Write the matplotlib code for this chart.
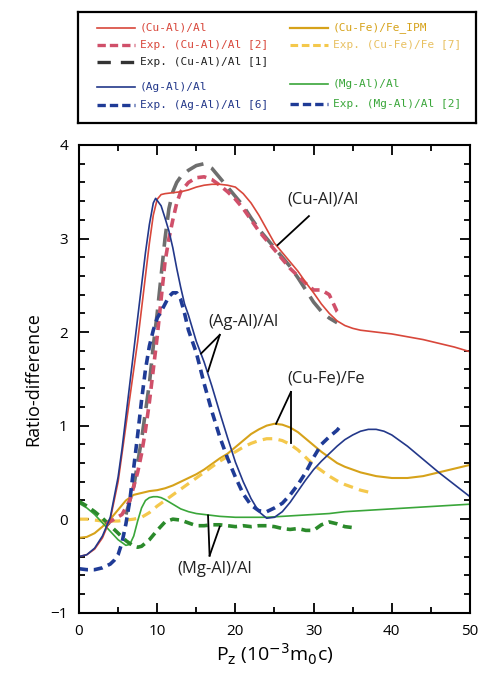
import matplotlib
matplotlib.use("Agg")
import matplotlib.pyplot as plt
from matplotlib.ticker import MultipleLocator

plt.rcParams['font.family'] = ['Open Sans', 'DejaVu Sans']

# ---------------- data ----------------
cual_x = [0, 1, 2, 3, 4, 5, 5.5, 6, 6.5, 7, 7.5, 8, 8.5, 9, 9.5, 10, 10.5, 11, 12, 13, 14, 15, 16, 17, 18,
          19, 20, 21, 22, 23, 24, 25, 26, 27, 28, 29, 30, 31, 32, 33, 34, 35, 36, 38, 40, 42, 44, 46, 48, 50]
cual_y = [-0.40, -0.38, -0.32, -0.2, 0.0, 0.4, 0.7, 1.0, 1.3, 1.6, 1.9, 2.25, 2.6, 2.95, 3.25, 3.42, 3.47,
          3.48, 3.49, 3.5, 3.52, 3.55, 3.57, 3.58, 3.58, 3.57, 3.55, 3.48, 3.38, 3.25, 3.1, 2.95, 2.85, 2.75,
          2.65, 2.53, 2.42, 2.3, 2.2, 2.12, 2.07, 2.04, 2.02, 2.0, 1.98, 1.95, 1.92, 1.88, 1.84, 1.79]

exp_cual2_x = [3.5, 4.5, 5.5, 6.5, 7, 7.5, 8, 8.5, 9, 9.5, 10, 10.5, 11, 11.5, 12, 12.5, 13, 14, 15, 16, 17,
               18, 19, 20, 21, 22, 23, 24, 25, 26, 27, 28, 29, 30, 31, 32, 33, 33.5]
exp_cual2_y = [-0.05, 0.0, 0.05, 0.2, 0.35, 0.5, 0.7, 0.95, 1.25, 1.6, 1.95, 2.35, 2.75, 3.0, 3.2, 3.38, 3.5,
               3.6, 3.65, 3.66, 3.63, 3.57, 3.5, 3.42, 3.32, 3.2, 3.08, 2.98, 2.88, 2.78, 2.68, 2.6, 2.52,
               2.45, 2.45, 2.4, 2.22, 2.18]

exp_cual1_x = [6, 7, 8, 9, 9.5, 10, 10.5, 11, 11.5, 12, 12.5, 13, 14, 15, 16, 17, 18, 19, 20, 21, 22, 23,
               24, 25, 26, 27, 28, 29, 30, 31, 32, 33]
exp_cual1_y = [0.05, 0.35, 0.85, 1.45, 1.85, 2.2, 2.6, 3.0, 3.32, 3.5, 3.6, 3.66, 3.73, 3.78, 3.8, 3.75,
               3.65, 3.55, 3.45, 3.35, 3.22, 3.1, 3.0, 2.9, 2.8, 2.7, 2.58, 2.45, 2.32, 2.22, 2.15, 2.1]

agal_x = [0, 1, 2, 3, 4, 5, 5.5, 6, 6.5, 7, 7.5, 8, 8.5, 9, 9.5, 9.8, 10.5, 11, 11.5, 12, 12.5, 13, 13.5,
          14, 15, 16, 17, 18, 19, 20, 21, 22, 23, 24, 25, 26, 27, 28, 29, 30, 31, 32, 33, 34, 35, 36, 37,
          38, 39, 40, 42, 44, 46, 48, 50]
agal_y = [-0.40, -0.38, -0.31, -0.18, 0.02, 0.45, 0.75, 1.1, 1.45, 1.8, 2.15, 2.5, 2.85, 3.15, 3.38, 3.43,
          3.35, 3.22, 3.08, 2.9, 2.68, 2.48, 2.3, 2.18, 1.9, 1.68, 1.42, 1.14, 0.87, 0.61, 0.4, 0.22, 0.08,
          0.01, 0.02, 0.08, 0.18, 0.3, 0.42, 0.53, 0.62, 0.7, 0.78, 0.85, 0.9, 0.94, 0.96, 0.96, 0.94, 0.9,
          0.78, 0.64, 0.5, 0.37, 0.24]

exp_agal_x = [0, 1, 2, 3, 4, 4.5, 5, 5.5, 6, 6.5, 7, 7.5, 8, 8.5, 9, 9.5, 10, 10.5, 11, 11.5, 12, 12.5, 13,
              13.5, 14, 14.5, 15, 16, 17, 18, 19, 20, 21, 22, 23, 24, 25, 26, 27, 28, 29, 30, 31, 32, 33,
              33.5]
exp_agal_y = [-0.53, -0.54, -0.54, -0.52, -0.48, -0.44, -0.38, -0.25, -0.05, 0.2, 0.55, 0.9, 1.27, 1.6,
              1.85, 2.02, 2.15, 2.22, 2.3, 2.38, 2.42, 2.42, 2.35, 2.2, 2.02, 1.9, 1.78, 1.45, 1.15, 0.88,
              0.65, 0.45, 0.27, 0.15, 0.09, 0.08, 0.12, 0.17, 0.26, 0.37, 0.5, 0.66, 0.8, 0.88, 0.95, 1.0]

cufe_x = list(range(0, 51))
cufe_y = [-0.2, -0.19, -0.15, -0.08, 0.0, 0.1, 0.2, 0.26, 0.28, 0.3, 0.31, 0.33, 0.36, 0.4, 0.44, 0.48,
          0.53, 0.59, 0.65, 0.7, 0.77, 0.84, 0.91, 0.96, 1.0, 1.02, 1.01, 0.98, 0.93, 0.86, 0.79, 0.72,
          0.66, 0.6, 0.56, 0.53, 0.5, 0.48, 0.46, 0.45, 0.44, 0.44, 0.44, 0.45, 0.46, 0.48, 0.5, 0.52,
          0.54, 0.56, 0.58]

exp_cufe_x = list(range(0, 38))
exp_cufe_y = [0.0, 0.0, -0.01, -0.02, -0.02, -0.02, -0.01, 0.0, 0.02, 0.07, 0.14, 0.2, 0.26, 0.32, 0.38,
              0.44, 0.5, 0.56, 0.62, 0.67, 0.72, 0.77, 0.81, 0.84, 0.86, 0.86, 0.84, 0.8, 0.74, 0.66, 0.58,
              0.52, 0.46, 0.41, 0.37, 0.34, 0.31, 0.29]

mgal_x = [0, 1, 2, 3, 4, 5, 6, 6.5, 7, 7.5, 8, 8.5, 9, 9.5, 10, 10.5, 11, 12, 13, 14, 15, 16, 17, 18, 20,
          22, 24, 26, 28, 30, 32, 34, 36, 38, 40, 42, 44, 46, 48, 50]
mgal_y = [0.17, 0.12, 0.05, -0.04, -0.13, -0.22, -0.28, -0.27, -0.18, -0.02, 0.12, 0.2, 0.23, 0.24, 0.24,
          0.23, 0.21, 0.16, 0.11, 0.08, 0.06, 0.05, 0.04, 0.03, 0.02, 0.02, 0.02, 0.03, 0.04, 0.05, 0.06,
          0.08, 0.09, 0.1, 0.11, 0.12, 0.13, 0.14, 0.15, 0.16]

exp_mgal_x = [0, 1, 2, 3, 4, 5, 6, 7, 7.5, 8, 9, 10, 11, 12, 13, 14, 15, 16, 17, 18, 19, 20, 21, 22, 23,
              24, 25, 26, 27, 28, 29, 30, 31, 32, 33, 34, 35]
exp_mgal_y = [0.19, 0.14, 0.08, 0.01, -0.07, -0.15, -0.23, -0.29, -0.3, -0.29, -0.22, -0.12, -0.03, 0.0,
              -0.01, -0.04, -0.07, -0.07, -0.06, -0.06, -0.07, -0.08, -0.07, -0.08, -0.07, -0.07, -0.08,
              -0.1, -0.11, -0.1, -0.12, -0.12, -0.06, -0.03, -0.05, -0.08, -0.09]

x_ticks = [0, 10, 20, 30, 40, 50]
y_ticks = [-1, 0, 1, 2, 3, 4]

# ---------------- colours ----------------
C_RED = '#d8473b'
C_RED_D = '#d0506a'
C_GRAY = '#6e6e6e'
C_BLUE = '#23388a'
C_BLUE_D = '#1f3b96'
C_GOLD = '#d6a21a'
C_YEL_D = '#f4c84c'
C_GREEN = '#3aa63a'
C_GREEN_D = '#2b8a2b'

fig = plt.figure(figsize=(4.85, 6.77), dpi=100)
ax = fig.add_axes([79 / 485, (677 - 612.7) / 677, (470 - 79) / 485, (612.7 - 145) / 677])

ax.plot(cufe_x, cufe_y, color=C_GOLD, lw=1.5)
ax.plot(exp_cufe_x, exp_cufe_y, color=C_YEL_D, lw=2.3, ls=(0, (3, 2)))
ax.plot(mgal_x, mgal_y, color=C_GREEN, lw=1.2)
ax.plot(exp_mgal_x, exp_mgal_y, color=C_GREEN_D, lw=2.6, ls=(0, (2.5, 1.6)))
ax.plot(exp_cual1_x, exp_cual1_y, color=C_GRAY, lw=2.6, ls=(0, (5, 2.5)))
ax.plot(exp_cual2_x, exp_cual2_y, color=C_RED_D, lw=2.6, ls=(0, (2.5, 1.6)))
ax.plot(cual_x, cual_y, color=C_RED, lw=1.2)
ax.plot(agal_x, agal_y, color=C_BLUE, lw=1.2)
ax.plot(exp_agal_x, exp_agal_y, color=C_BLUE_D, lw=2.6, ls=(0, (2.5, 1.6)))

ax.set_xlim(0, 50)
ax.set_ylim(-1, 4)
ax.set_xticks(x_ticks)
ax.set_yticks(y_ticks)
ax.xaxis.set_minor_locator(MultipleLocator(5))
ax.yaxis.set_minor_locator(MultipleLocator(0.2))
ax.tick_params(which='both', direction='in', top=True, right=True, width=1.3, labelsize=11, pad=8)
ax.tick_params(which='major', length=7)
ax.tick_params(which='minor', length=4)
for s in ax.spines.values():
    s.set_linewidth(1.5)

ax.set_xlabel(r'P$_{\mathrm{z}}$ (10$^{\mathrm{-3}}$m$_{\mathrm{0}}$c)', fontsize=14, labelpad=2)
ax.set_ylabel('Ratio-difference', fontsize=13, labelpad=6)

# annotations
lab_kw = dict(fontsize=12, ha='center', va='center', color='#222222')
ax.text(31.2, 3.42, '(Cu-Al)/Al', **lab_kw)
ax.plot([29.4, 25.4], [3.24, 2.93], color='black', lw=1.3)
ax.text(21.0, 2.11, '(Ag-Al)/Al', **lab_kw)
ax.plot([18.0, 15.6], [1.97, 1.77], color='black', lw=1.3)
ax.plot([18.0, 16.5], [1.97, 1.58], color='black', lw=1.3)
ax.text(31.6, 1.5, '(Cu-Fe)/Fe', **lab_kw)
ax.plot([27.1, 25.2], [1.36, 1.02], color='black', lw=1.3)
ax.plot([27.1, 27.1], [1.36, 0.81], color='black', lw=1.3)
ax.text(17.3, -0.53, '(Mg-Al)/Al', **lab_kw)
ax.plot([16.7, 16.5], [-0.39, 0.04], color='black', lw=1.3)
ax.plot([16.7, 18.0], [-0.39, -0.08], color='black', lw=1.3)

# legend box
lg = fig.add_axes([78 / 485, (677 - 123) / 677, (476 - 78) / 485, (123 - 12) / 677])
lg.set_xlim(0, 1)
lg.set_ylim(0, 1)
lg.set_xticks([])
lg.set_yticks([])
for s in lg.spines.values():
    s.set_linewidth(1.6)

entries = [
    # (col, row_y, color_line, ls, lw, text, text color)
    (0, 0.856, C_RED, '-', 1.2, '(Cu-Al)/Al', C_RED),
    (0, 0.70, C_RED_D, (0, (2.5, 1.2)), 2.4, 'Exp. (Cu-Al)/Al [2]', C_RED),
    (0, 0.55, '#333333', (0, (4, 3)), 2.4, 'Exp. (Cu-Al)/Al [1]', '#222222'),
    (0, 0.324, C_BLUE, '-', 1.2, '(Ag-Al)/Al', C_BLUE),
    (0, 0.162, C_BLUE_D, (0, (2.5, 1.2)), 2.4, 'Exp. (Ag-Al)/Al [6]', C_BLUE),
    (1, 0.856, C_GOLD, '-', 1.6, '(Cu-Fe)/Fe_IPM', C_GOLD),
    (1, 0.70, C_YEL_D, (0, (2.5, 1.2)), 2.2, 'Exp. (Cu-Fe)/Fe [7]', '#e8c060'),
    (1, 0.352, C_GREEN, '-', 1.2, '(Mg-Al)/Al', C_GREEN),
    (1, 0.172, C_BLUE_D, (0, (2.5, 1.2)), 2.4, 'Exp. (Mg-Al)/Al [2]', C_GREEN),
]
for col, yy, c, ls, lw, txt, tc in entries:
    x0 = 0.048 if col == 0 else 0.533
    lg.plot([x0, x0 + 0.095], [yy, yy], color=c, ls=ls, lw=lw)
    lg.text(x0 + 0.108, yy, txt, color=tc, fontsize=8, va='center', ha='left',
            family=['DejaVu Sans Mono'])

fig.savefig('out.png', dpi=100)
